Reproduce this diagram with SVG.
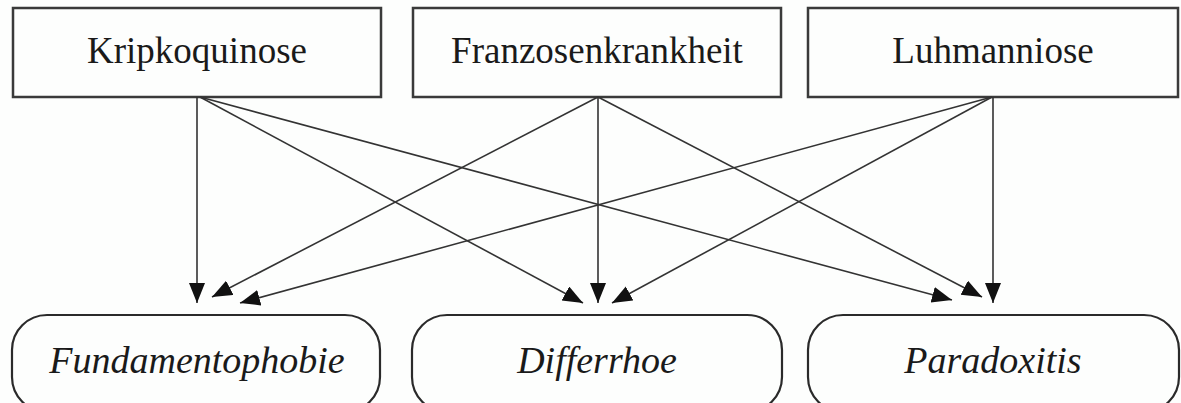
<svg xmlns="http://www.w3.org/2000/svg" width="1181" height="403" viewBox="0 0 1181 403">
<style>
.box{fill:#fdfefd;stroke:#3a3a3a;stroke-width:2.5}
.oval{fill:#fdfefd;stroke:#2a2a2a;stroke-width:2.2}
.t{font-family:"Liberation Serif",serif;font-size:37px;fill:#1a1a1a;text-anchor:middle}
.ti{font-family:"Liberation Serif",serif;font-size:38px;font-style:italic;fill:#1a1a1a;text-anchor:middle}
.c line{stroke:#333;stroke-width:1.6;marker-end:url(#ah)}
</style>
<defs>
<marker id="ah" markerUnits="userSpaceOnUse" markerWidth="22" markerHeight="18" refX="20" refY="8" orient="auto">
<path d="M0,0 L20,8 L0,16 z" fill="#111"/>
</marker>
</defs>
<rect width="1181" height="403" fill="#fdfefd"/>
<g id="kripkoquinose"><rect class="box" x="13" y="8" width="368" height="89"/><text class="t" x="197" y="63">Kripkoquinose</text></g>
<g id="franzosenkrankheit"><rect class="box" x="413" y="8" width="368" height="89"/><text class="t" x="597" y="63">Franzosenkrankheit</text></g>
<g id="luhmanniose"><rect class="box" x="808" y="8" width="370" height="89"/><text class="t" x="993" y="63">Luhmanniose</text></g>
<g id="fundamentophobie"><rect class="oval" x="12" y="315" width="368" height="97" rx="35" ry="35"/><text class="ti" x="197" y="373">Fundamentophobie</text></g>
<g id="differrhoe"><rect class="oval" x="412" y="315" width="370" height="97" rx="35" ry="35"/><text class="ti" x="597" y="373">Differrhoe</text></g>
<g id="paradoxitis"><rect class="oval" x="808" y="315" width="371" height="97" rx="35" ry="35"/><text class="ti" x="993" y="373">Paradoxitis</text></g>
<g class="c" id="connectors">
<line x1="197" y1="97" x2="197" y2="303"/>
<line x1="200" y1="97" x2="583" y2="303"/>
<line x1="200" y1="97" x2="952" y2="300"/>
<line x1="598" y1="97" x2="212" y2="297"/>
<line x1="598" y1="97" x2="598" y2="303"/>
<line x1="598" y1="97" x2="982" y2="297"/>
<line x1="992" y1="97" x2="240" y2="303"/>
<line x1="992" y1="97" x2="612" y2="303"/>
<line x1="993" y1="97" x2="993" y2="303"/>
</g>
</svg>
